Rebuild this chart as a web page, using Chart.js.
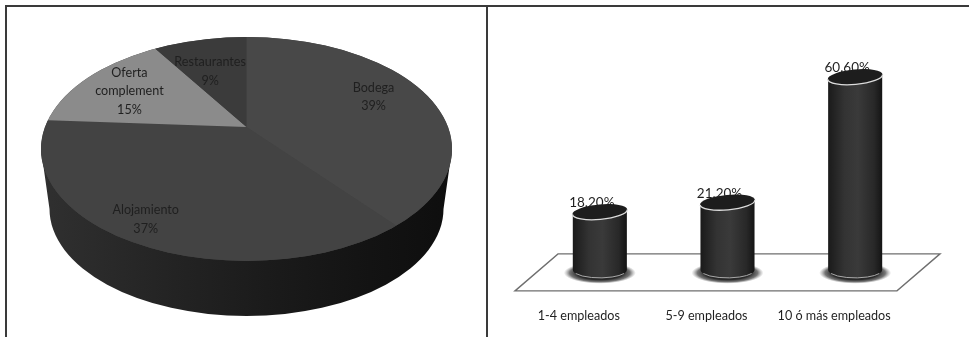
<!DOCTYPE html>
<html>
<head>
<meta charset="utf-8">
<script src="https://cdn.jsdelivr.net/npm/chart.js@4"></script>
<style>
  html, body { margin: 0; padding: 0; background: #fff; overflow: hidden; }
  body { position: relative; width: 969px; height: 337px; }
  canvas { position: absolute; }
  #pie { left: 0; top: 0; }
  #bars { left: 487px; top: 6px; }
  .rule { position: absolute; background: #3a3a3a; }
</style>
</head>
<body>
<div class="rule" style="left:5px;top:5px;width:964px;height:2px"></div>
<div class="rule" style="left:5px;top:5px;width:2px;height:332px"></div>
<div class="rule" style="left:486px;top:5px;width:2px;height:332px"></div>
<canvas id="pie" width="486" height="337"></canvas>
<canvas id="bars" width="482" height="361"></canvas>
<script>
const sectorNames = [['Bodega'], ['Alojamiento'], ['Oferta', 'complement'], ['Restaurantes']];
const sectorShares = [39, 37, 15, 9];
const sectorColors = ['#484848', '#434343', '#8b8b8b', '#3b3b3b'];

const sizeNames = ['1-4 empleados', '5-9 empleados', '10 ó más empleados'];
const sizeShares = [18.2, 21.2, 60.6];

const INK = '#1f1f1f';
const FONT = 'Lato, "Open Sans", sans-serif';

Chart.defaults.animation = false;
Chart.defaults.responsive = false;

// Tilted disc: the wedges are squashed about their apex and trimmed to an off-centre ellipse.
const disc = {
  apexX: 246.5, apexY: 127, squash: 0.545, reach: 262,
  top: { x: 246.5, y: 149, rx: 205.5, ry: 112 },
  foot: { x: 246.5, y: 209, rx: 197, ry: 107 }
};
const labelReach = [135, 200, 136, 116];
const labelNudge = [[0, -5], [-10, -5], [0, 2], [-4, 5]];

const tiltedPie = {
  id: 'tiltedPie',
  beforeDatasetsDraw(chart) {
    const { ctx } = chart;
    const arc = chart.getDatasetMeta(0).data[0];
    const { top, foot } = disc;

    // Side wall, between the rim and the smaller ellipse below it
    ctx.save();
    const wall = ctx.createLinearGradient(top.x - top.rx, 0, top.x + top.rx, 0);
    wall.addColorStop(0, '#303030');
    wall.addColorStop(0.3, '#242424');
    wall.addColorStop(0.55, '#1b1b1b');
    wall.addColorStop(0.8, '#131313');
    wall.addColorStop(1, '#0e0e0e');
    ctx.fillStyle = wall;
    ctx.beginPath();
    ctx.moveTo(top.x - top.rx, top.y);
    ctx.lineTo(foot.x - foot.rx, foot.y);
    ctx.ellipse(foot.x, foot.y, foot.rx, foot.ry, 0, Math.PI, 0, true);
    ctx.lineTo(top.x + top.rx, top.y);
    ctx.closePath();
    ctx.fill();
    ctx.restore();

    ctx.save();
    ctx.beginPath();
    ctx.ellipse(top.x, top.y, top.rx, top.ry, 0, 0, Math.PI * 2);
    ctx.clip();
    // Underlay keeps the seams between wedges from showing the page colour
    ctx.fillStyle = '#454545';
    ctx.fillRect(0, 0, chart.width, chart.height);
    const scale = disc.reach / arc.outerRadius;
    ctx.translate(disc.apexX, disc.apexY);
    ctx.scale(scale, scale * disc.squash);
    ctx.translate(-arc.x, -arc.y);
  },
  afterDatasetsDraw(chart) {
    const { ctx } = chart;
    ctx.restore();

    const arcs = chart.getDatasetMeta(0).data;
    ctx.save();
    ctx.fillStyle = INK;
    ctx.font = '12.6px ' + FONT;
    ctx.textAlign = 'center';
    ctx.textBaseline = 'middle';
    arcs.forEach((arc, i) => {
      const mid = (arc.startAngle + arc.endAngle) / 2;
      const cx = disc.apexX + Math.cos(mid) * labelReach[i] + labelNudge[i][0];
      const cy = disc.apexY + Math.sin(mid) * labelReach[i] * disc.squash + labelNudge[i][1];
      const lines = [...sectorNames[i], sectorShares[i] + '%'];
      lines.forEach((line, n) => {
        ctx.fillText(line, cx, cy + (n - (lines.length - 1) / 2) * 18.7);
      });
    });
    ctx.restore();
  }
};

new Chart(document.getElementById('pie'), {
  type: 'pie',
  data: {
    labels: sectorNames.map(n => n.join(' ')),
    datasets: [{
      data: sectorShares,
      backgroundColor: sectorColors,
      borderWidth: 0,
      clip: false
    }]
  },
  options: {
    plugins: { legend: { display: false }, tooltip: { enabled: false } }
  },
  plugins: [tiltedPie]
});

// Bar element drawn as an upright cylinder standing on the floor plate
class CylinderBar extends Chart.BarElement {
  draw(ctx) {
    const { x, y, base, width } = this.getProps(['x', 'y', 'base', 'width']);
    const half = width / 2;
    const capRy = 7.5;
    const tilt = -0.09;
    const footRy = 8;
    const rise = Math.sin(tilt) * half;

    ctx.save();

    // Soft contact shadow around the foot
    ctx.save();
    ctx.translate(x, base + 3);
    ctx.scale(1, 0.3);
    const pool = ctx.createRadialGradient(0, 0, half * 0.85, 0, 0, half + 9);
    pool.addColorStop(0, 'rgba(30,30,30,0.95)');
    pool.addColorStop(0.55, 'rgba(60,60,60,0.7)');
    pool.addColorStop(1, 'rgba(120,120,120,0)');
    ctx.fillStyle = pool;
    ctx.beginPath();
    ctx.arc(0, 0, half + 9, 0, Math.PI * 2);
    ctx.fill();
    ctx.restore();

    // Body
    const shade = ctx.createLinearGradient(x - half, 0, x + half, 0);
    shade.addColorStop(0, '#1a1a1a');
    shade.addColorStop(0.3, '#333333');
    shade.addColorStop(0.55, '#3a3a3a');
    shade.addColorStop(0.85, '#282828');
    shade.addColorStop(1, '#141414');
    ctx.fillStyle = shade;
    ctx.beginPath();
    ctx.moveTo(x - half, y - rise);
    ctx.lineTo(x - half, base);
    ctx.ellipse(x, base, half, footRy, 0, Math.PI, 0, true);
    ctx.lineTo(x + half, y + rise);
    ctx.closePath();
    ctx.fill();

    // Light rim along the foot
    ctx.strokeStyle = '#a8a8a8';
    ctx.lineWidth = 1;
    ctx.beginPath();
    ctx.ellipse(x, base, half, footRy, 0, Math.PI * 0.85, Math.PI * 0.15, true);
    ctx.stroke();

    // Cap, with its bright lower lip
    ctx.fillStyle = '#1d1d1d';
    ctx.beginPath();
    ctx.ellipse(x, y, half + 0.5, capRy, tilt, 0, Math.PI * 2);
    ctx.fill();
    ctx.strokeStyle = '#dcdcdc';
    ctx.lineWidth = 1.3;
    ctx.beginPath();
    ctx.ellipse(x, y, half + 0.5, capRy, tilt, Math.PI, 0, true);
    ctx.stroke();

    ctx.restore();
  }
}
CylinderBar.id = 'cylinderBar';
CylinderBar.defaults = Chart.BarElement.defaults;

class CylinderController extends Chart.BarController {}
CylinderController.id = 'cylinder';
CylinderController.defaults = { ...Chart.BarController.defaults, dataElementType: 'cylinderBar' };
CylinderController.overrides = Chart.BarController.overrides;

Chart.register(CylinderBar, CylinderController);

const floorPlate = {
  id: 'floorPlate',
  beforeDatasetsDraw(chart) {
    const { ctx, chartArea: a, scales } = chart;
    const base = scales.y.getPixelForValue(0);
    ctx.save();
    ctx.strokeStyle = '#6f6f6f';
    ctx.lineWidth = 1.4;
    ctx.beginPath();
    ctx.moveTo(a.left - 21, base + 21);
    ctx.lineTo(a.right - 22, base + 21);
    ctx.lineTo(a.right + 21, base - 16);
    ctx.lineTo(a.left + 22, base - 16);
    ctx.closePath();
    ctx.stroke();
    ctx.restore();
  }
};

const valueTags = {
  id: 'valueTags',
  afterDatasetsDraw(chart) {
    const { ctx } = chart;
    ctx.save();
    ctx.fillStyle = INK;
    ctx.font = '13.5px ' + FONT;
    ctx.textAlign = 'center';
    ctx.textBaseline = 'middle';
    chart.getDatasetMeta(0).data.forEach((bar, i) => {
      ctx.fillText(sizeShares[i].toFixed(2) + '%', bar.x - 8, bar.y - 9);
    });
    ctx.restore();
  }
};

new Chart(document.getElementById('bars'), {
  type: 'cylinder',
  data: {
    labels: sizeNames,
    datasets: [{
      data: sizeShares,
      backgroundColor: '#2a2a2a',
      borderWidth: 0,
      barPercentage: 0.4235,
      categoryPercentage: 1,
      clip: false
    }]
  },
  options: {
    layout: { padding: { left: 49, right: 50, top: 41, bottom: 14 } },
    plugins: { legend: { display: false }, tooltip: { enabled: false } },
    scales: {
      x: {
        grid: { display: false },
        border: { display: false },
        ticks: {
          color: INK,
          font: { family: FONT, size: 12.6 },
          padding: 30,
          labelOffset: -21,
          maxRotation: 0,
          autoSkip: false
        }
      },
      y: { display: false, min: 0, max: 70 }
    }
  },
  plugins: [floorPlate, valueTags]
});
</script>
</body>
</html>
